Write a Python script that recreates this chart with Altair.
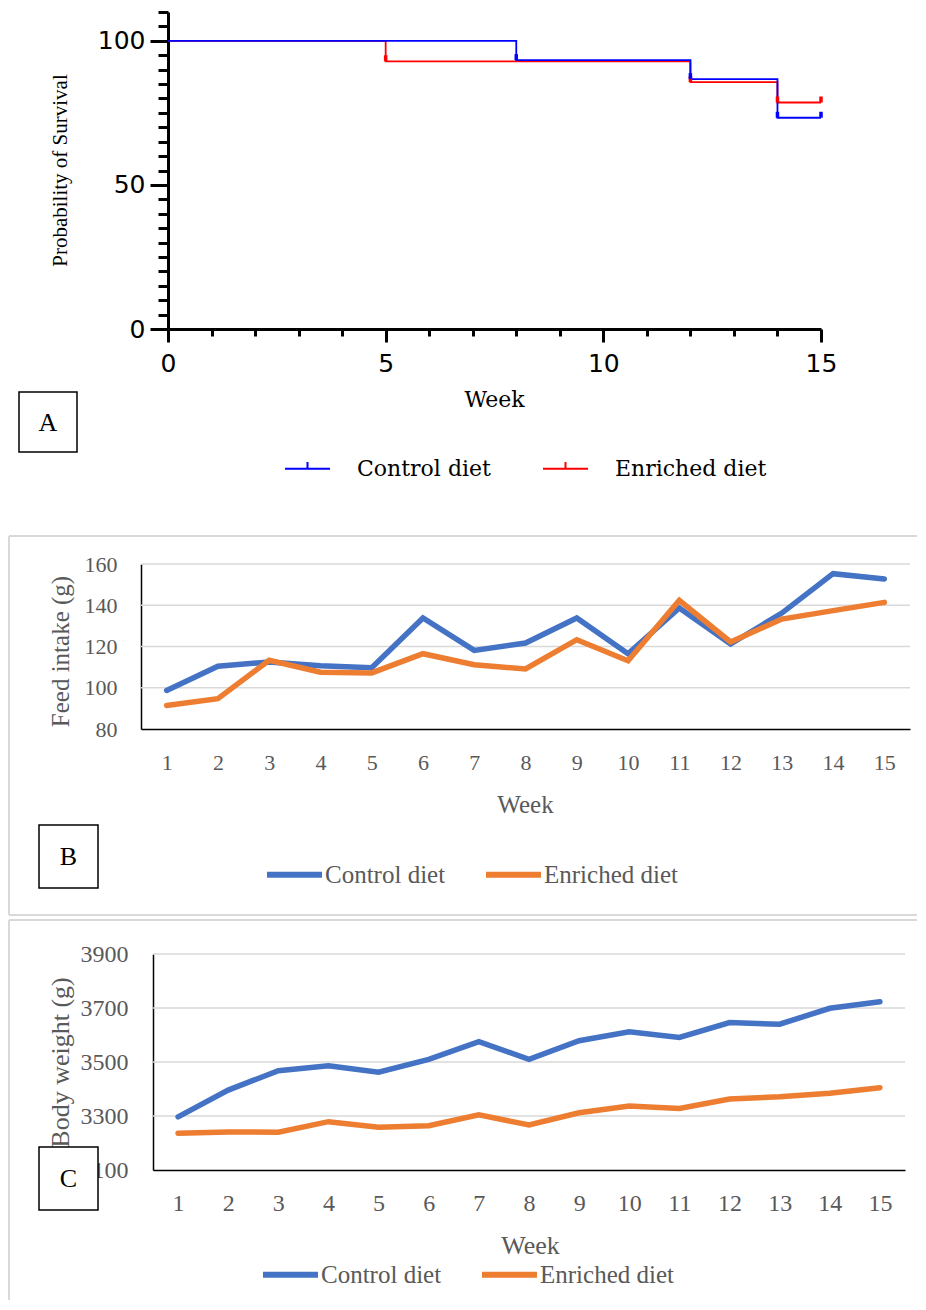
import altair as alt
import pandas as pd

GROUPS = ["Control diet", "Enriched diet"]

# ---------------- Panel A: survival (Kaplan-Meier, %) ----------------
km_week_control = [0, 8, 12, 14, 15]
km_surv_control = [100, 93.3, 86.7, 73.3, 73.3]
km_week_enriched = [0, 5, 12, 14, 15]
km_surv_enriched = [100, 92.9, 85.7, 78.6, 78.6]
cens_week_control = [8, 12, 14, 15]
cens_surv_control = [93.3, 86.7, 73.3, 73.3]
cens_week_enriched = [5, 12, 14, 15]
cens_surv_enriched = [92.9, 85.7, 78.6, 78.6]
surv_ticks = list(range(0, 111, 5))
week_ticks_a = list(range(0, 16))

# ---------------- Panels B and C ----------------
weeks = list(range(1, 16))
feed_control = [98.7, 110.4, 112.5, 110.7, 109.7, 133.8, 118.1, 121.7, 133.8, 116.5, 138.7, 121.2, 136.2, 155.3, 152.7]
feed_enriched = [91.4, 94.7, 113.3, 107.5, 107.2, 116.5, 111.2, 109.1, 123.3, 113.1, 142.4, 122.2, 133.3, 137.4, 141.4]
feed_ticks = [80, 100, 120, 140, 160]
bw_control = [3297, 3396, 3468, 3486, 3462, 3510, 3575, 3510, 3579, 3612, 3591, 3646, 3640, 3699, 3723]
bw_enriched = [3236, 3241, 3240, 3279, 3258, 3264, 3304, 3267, 3312, 3337, 3328, 3363, 3371, 3384, 3405]
bw_ticks = [3100, 3300, 3500, 3700, 3900]

one = pd.DataFrame({"a": [0]})
GRAY = "#595959"
SERIF = "Liberation Serif"

# ---------------- Panel A ----------------
dA_c = pd.DataFrame({"week": km_week_control, "y": km_surv_control, "group": GROUPS[0]})
dA_e = pd.DataFrame({"week": km_week_enriched, "y": km_surv_enriched, "group": GROUPS[1]})
cA_c = pd.DataFrame({"week": cens_week_control, "y": cens_surv_control, "group": GROUPS[0]})
cA_e = pd.DataFrame({"week": cens_week_enriched, "y": cens_surv_enriched, "group": GROUPS[1]})

axA_x = alt.Axis(
    values=week_ticks_a, labelExpr="datum.value % 5 === 0 ? datum.label : ''",
    tickSize={"condition": {"test": "datum.value % 5 === 0", "value": 13}, "value": 7},
    labelFontSize={"condition": {"test": "datum.value % 5 === 0", "value": 25}, "value": 0},
    tickWidth=3, tickColor="black", domainColor="black", domainWidth=3,
    labelFont="DejaVu Sans", labelColor="black", labelPadding=9,
    labelOverlap=False, labelFlush=False, grid=False,
    title="Week", titleFont="DejaVu Serif", titleFontSize=22, titleFontWeight="normal",
    titleColor="black", titleX=353, titleY=70, titleAlign="center", titleBaseline="middle")
axA_y = alt.Axis(
    values=surv_ticks, labelExpr="datum.value % 50 === 0 ? datum.label : ''",
    tickSize={"condition": {"test": "datum.value % 50 === 0", "value": 18}, "value": 10},
    labelFontSize={"condition": {"test": "datum.value % 50 === 0", "value": 25}, "value": 0},
    tickWidth=3, tickColor="black", domainColor="black", domainWidth=3, offset=-27,
    labelFont="DejaVu Sans", labelColor="black", labelPadding=5,
    labelOverlap=False, labelFlush=False, grid=False,
    title="Probability of Survival", titleFont=SERIF, titleFontSize=21, titleFontWeight="normal",
    titleColor="black", titleAngle=270, titleX=-108, titleY=162, titleAlign="center", titleBaseline="middle")
legA = alt.Legend(orient="none", legendX=143, legendY=437, direction="horizontal", title=None,
                  symbolType="M-1,0H1M0,0V-0.3", symbolSize=2025, symbolStrokeWidth=2,
                  labelFont="DejaVu Serif", labelFontSize=22, labelColor="black",
                  labelOffset=26, columnPadding=48, padding=0)
xA = alt.X("week:Q", scale=alt.Scale(domain=[0, 15], range=[27, 680], nice=False, zero=False), axis=axA_x)
yA = alt.Y("y:Q", scale=alt.Scale(domain=[0, 110], range=[321, 4], nice=False, zero=False), axis=axA_y)
colA = alt.Color("group:N", scale=alt.Scale(domain=GROUPS, range=["#0000ff", "#ff0000"]), legend=legA)

spacerA = alt.Chart(one).mark_rect(color="white").encode(
    x=alt.value(0), x2=alt.value(1), y=alt.value(0), y2=alt.value(1))
lineA_e = alt.Chart(dA_e).mark_line(interpolate="step-after", strokeWidth=1.8).encode(x=xA, y=yA, color=colA)
lineA_c = alt.Chart(dA_c).mark_line(interpolate="step-after", strokeWidth=1.8).encode(x=xA, y=yA, color=colA)
censA_e = alt.Chart(cA_e).mark_tick(orient="vertical", size=6, thickness=3.5, yOffset=-3, opacity=1).encode(x=xA, y=yA, color=colA)
censA_c = alt.Chart(cA_c).mark_tick(orient="vertical", size=6, thickness=3.5, yOffset=-3, opacity=1).encode(x=xA, y=yA, color=colA)
boxA = alt.Chart(one).mark_rect(fill="white", stroke="black", strokeWidth=1.5).encode(
    x=alt.value(-122), x2=alt.value(-64), y=alt.value(384), y2=alt.value(444))
textA = alt.Chart(one).mark_text(text="A", font=SERIF, fontSize=26, align="center", baseline="middle", color="black").encode(
    x=alt.value(-93), y=alt.value(415))
panelA = alt.layer(spacerA, lineA_e, lineA_c, censA_e, censA_c, boxA, textA).properties(width=680, height=321)

# ---------------- helper for panels B / C ----------------
def line_panel(ctrl, enr, ticks, y_dom, y_range, x_range, width, height, y_offset,
               y_title, y_title_x, y_title_y, label_size, title_size, x_label_pad, y_label_pad,
               week_title_x, leg_x, leg_y, col_pad, border_top, border_bottom, letter, box_y):
    d = pd.DataFrame({"week": weeks * 2, "y": ctrl + enr,
                      "group": [GROUPS[0]] * len(weeks) + [GROUPS[1]] * len(weeks)})
    g = pd.DataFrame({"y": ticks[1:]})
    ax_x = alt.Axis(values=weeks, ticks=False, tickSize=0, domainColor="black", domainWidth=1.5,
                    labelFont=SERIF, labelFontSize=label_size, labelColor=GRAY, labelPadding=x_label_pad,
                    labelOverlap=False, labelFlush=False, grid=False,
                    title="Week", titleFont=SERIF, titleFontSize=title_size, titleFontWeight="normal",
                    titleColor=GRAY, titleX=week_title_x, titleY=75, titleAlign="center", titleBaseline="middle")
    ax_y = alt.Axis(values=ticks, format="d", ticks=False, tickSize=0, domainColor="black", domainWidth=1.5,
                    offset=y_offset,
                    labelFont=SERIF, labelFontSize=label_size, labelColor=GRAY, labelPadding=y_label_pad,
                    labelOverlap=False, labelFlush=False, grid=False,
                    title=y_title, titleFont=SERIF, titleFontSize=title_size, titleFontWeight="normal",
                    titleColor=GRAY, titleAngle=270, titleX=y_title_x, titleY=y_title_y,
                    titleAlign="center", titleBaseline="middle")
    leg = alt.Legend(orient="none", legendX=leg_x, legendY=leg_y, direction="horizontal", title=None,
                     symbolType="stroke", symbolSize=3025, symbolStrokeWidth=6,
                     labelFont=SERIF, labelFontSize=25, labelColor=GRAY,
                     labelOffset=0, columnPadding=col_pad, padding=0)
    x = alt.X("week:Q", scale=alt.Scale(domain=[0.5, 15.5], range=x_range, nice=False, zero=False), axis=ax_x)
    y = alt.Y("y:Q", scale=alt.Scale(domain=y_dom, range=y_range, nice=False, zero=False), axis=ax_y)
    col = alt.Color("group:N", scale=alt.Scale(domain=GROUPS, range=["#4472C4", "#ED7D31"]), legend=leg)

    grid = alt.Chart(g).mark_rule(color="#d9d9d9", strokeWidth=1.5).encode(
        y=y, x=alt.value(x_range[0]), x2=alt.value(x_range[1]))
    lines = alt.Chart(d).mark_line(strokeWidth=5.5, strokeCap="round").encode(x=x, y=y, color=col)
    layers = [grid, lines]
    bcol = "#d9d9d9"
    layers.append(alt.Chart(one).mark_rule(color=bcol, strokeWidth=2).encode(
        x=alt.value(-132), y=alt.value(border_top), y2=alt.value(border_bottom if border_bottom else 346)))
    layers.append(alt.Chart(one).mark_rule(color=bcol, strokeWidth=2).encode(
        x=alt.value(-132), x2=alt.value(776), y=alt.value(border_top)))
    if border_bottom:
        layers.append(alt.Chart(one).mark_rule(color=bcol, strokeWidth=2).encode(
            x=alt.value(-132), x2=alt.value(776), y=alt.value(border_bottom)))
    layers.append(alt.Chart(one).mark_rect(fill="white", stroke="black", strokeWidth=1.5).encode(
        x=alt.value(-102), x2=alt.value(-43), y=alt.value(box_y), y2=alt.value(box_y + 63)))
    layers.append(alt.Chart(one).mark_text(text=letter, font=SERIF, fontSize=26, align="center",
                                           baseline="middle", color="black").encode(
        x=alt.value(-72.5), y=alt.value(box_y + 32)))
    return alt.layer(*layers).properties(width=width, height=height)

panelB = line_panel(feed_control, feed_enriched, feed_ticks, [80, 160], [175, 10], [0, 769], 769, 175, 0,
                    "Feed intake (g)", -81, 97, 22, 25, 23, 24, 384, 123, 290, 28, -18, 361, "B", 271)
panelC = line_panel(bw_control, bw_enriched, bw_ticks, [3100, 3900], [216, 0], [12, 764], 764, 216, -12,
                    "Body weight (g)", -93, 108, 24, 26, 21, 25, 389, 119, 290, 28, -34, None, "C", 193)

chart = (alt.vconcat(panelA, panelB, panelC, spacing=225, bounds="flush")
         .resolve_scale(x="independent", y="independent", color="independent")
         .resolve_legend(color="independent")
         .configure_view(stroke=None)
         .properties(padding=0, background="white"))

chart.save("out.html", embed_options={"renderer": "svg", "actions": False})
